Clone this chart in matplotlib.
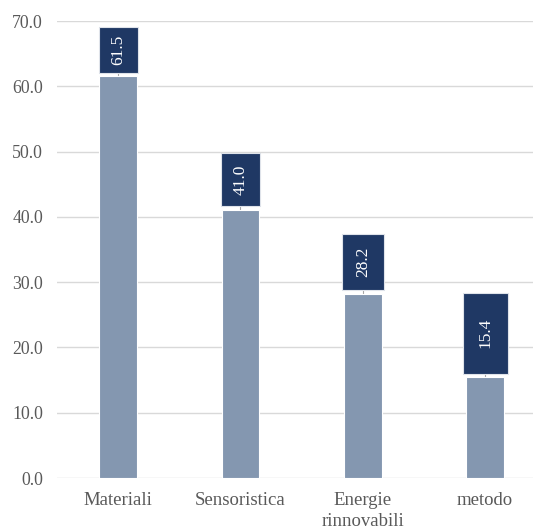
import matplotlib
matplotlib.use("Agg")
import matplotlib.pyplot as plt
from matplotlib.patches import Rectangle

categories = ["Materiali", "Sensoristica", "Energie\nrinnovabili", "metodo"]
values = [61.5, 41.0, 28.2, 15.4]
value_labels = ["61.5", "41.0", "28.2", "15.4"]
y_ticks = [0, 10, 20, 30, 40, 50, 60, 70]

# callout box styling (height / width in axis units)
box_heights = [7.0, 8.2, 8.6, 12.4]
box_widths = [0.32, 0.32, 0.34, 0.37]
box_gap = 0.6

bar_color = "#8497b0"
box_color = "#1f3864"
grid_color = "#d9d9d9"
text_color = "#595959"

plt.rcParams["font.family"] = ["Liberation Serif", "DejaVu Serif"]

fig = plt.figure(figsize=(5.35, 5.29), dpi=100)
ax = fig.add_axes([0.1065, 0.0964, 0.8895, 0.8639])

x = list(range(len(categories)))
ax.bar(x, values, width=0.31, color=bar_color, edgecolor="white",
       linewidth=0.8, zorder=3)

for xi, v, lab, h, w in zip(x, values, value_labels, box_heights, box_widths):
    bottom = v + box_gap
    ax.plot([xi, xi], [v, bottom], color="#a6a6a6", linewidth=0.8, zorder=2)
    ax.add_patch(Rectangle((xi - w / 2, bottom), w, h, facecolor=box_color,
                           edgecolor="#dfe3ea", linewidth=0.8, zorder=4))
    ax.text(xi, bottom + h / 2, lab, rotation=90, ha="center", va="center",
            color="white", fontsize=12.5, zorder=5)

ax.set_xlim(-0.5, 3.39)
ax.set_ylim(0, 70)
ax.set_yticks(y_ticks)
ax.set_yticklabels([f"{t:.1f}" for t in y_ticks])
ax.set_xticks(x)
ax.set_xticklabels(categories, linespacing=1.3)

ax.yaxis.grid(True, color=grid_color, linewidth=1.0, zorder=0)
ax.set_axisbelow(True)
for s in ax.spines.values():
    s.set_visible(False)
ax.tick_params(axis="both", length=0, colors=text_color)
ax.tick_params(axis="x", pad=10, labelsize=13.5)
ax.tick_params(axis="y", pad=10, labelsize=12.8)

fig.savefig("out.png", dpi=100, facecolor="white")
